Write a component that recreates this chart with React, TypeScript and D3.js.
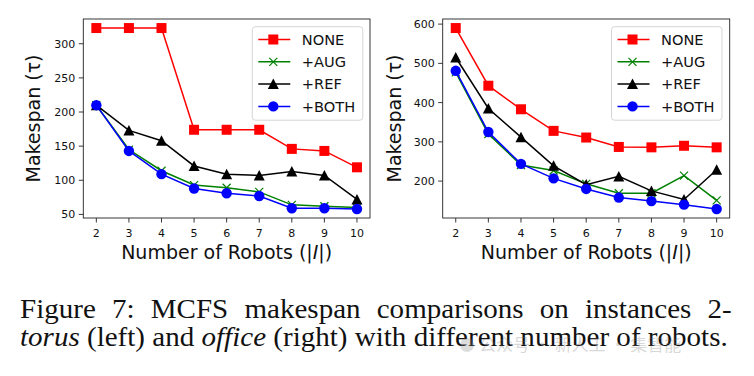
import React, { useLayoutEffect, useRef, useState } from "react";
import * as d3 from "d3";

const robots = [2, 3, 4, 5, 6, 7, 8, 9, 10];
const torusNone = [323, 323, 323, 174, 174, 174, 146, 143, 119];
const torusAug = [210, 145, 114, 93, 89, 83, 64, 62, 60];
const torusRef = [210, 173, 158, 121, 109, 107, 113, 107, 72];
const torusBoth = [210, 143, 109, 88, 81, 77, 59, 59, 58];
const officeNone = [590, 443, 383, 328, 311, 287, 286, 290, 286];
const officeAug = [477, 320, 241, 227, 193, 169, 169, 214, 151];
const officeRef = [515, 385, 312, 239, 191, 212, 175, 153, 229];
const officeBoth = [481, 325, 244, 207, 180, 158, 149, 140, 129];
const torusTicks = [50, 100, 150, 200, 250, 300];
const officeTicks = [200, 300, 400, 500, 600];
const seriesNames = ["NONE", "+AUG", "+REF", "+BOTH"];
const seriesColors = ["#ff0000", "#008000", "#000000", "#0000ff"];
const seriesMarkers = ["square", "x", "triangle", "circle"];
const xLabel = "Number of Robots (|";
const yLabel = "Makespan (τ)";
const captionLine1 = ["Figure", "7:", "MCFS", "makespan", "comparisons", "on", "instances", "2-"];
const watermark = "公众号 · 新人工 · 集智能";

const FONT = "'DejaVu Sans', sans-serif";

function Marker({ type, x, y, color }: { type: string; x: number; y: number; color: string }) {
  if (type === "square") return <rect x={x - 5} y={y - 5} width={10} height={10} fill={color} />;
  if (type === "circle") return <circle cx={x} cy={y} r={5.2} fill={color} />;
  if (type === "triangle")
    return <path d={`M${x},${y - 5.5}L${x + 5.5},${y + 5}L${x - 5.5},${y + 5}Z`} fill={color} />;
  return (
    <path
      d={`M${x - 4},${y - 4}L${x + 4},${y + 4}M${x - 4},${y + 4}L${x + 4},${y - 4}`}
      stroke={color}
      strokeWidth={1.2}
      fill="none"
    />
  );
}

function Panel({
  x0, x1, y0, y1, series, yTicks, yLabelX, legendX,
}: {
  x0: number; x1: number; y0: number; y1: number; series: number[][]; yTicks: number[]; yLabelX: number; legendX: number;
}) {
  const all = series.flat();
  const mn = d3.min(all) as number;
  const mx = d3.max(all) as number;
  const pad = (mx - mn) * 0.05;
  const x = d3.scaleLinear().domain([1.6, 10.4]).range([x0, x1]);
  const y = d3.scaleLinear().domain([mn - pad, mx + pad]).range([y1, y0]);
  const line = d3
    .line<number>()
    .x((_, i) => x(robots[i]))
    .y((d) => y(d));
  const cx = (x0 + x1) / 2;
  const cy = (y0 + y1) / 2;
  return (
    <g>
      {series.map((s, si) => (
        <g key={si}>
          <path d={line(s) || ""} fill="none" stroke={seriesColors[si]} strokeWidth={1.5} />
          {s.map((v, i) => (
            <Marker key={i} type={seriesMarkers[si]} x={x(robots[i])} y={y(v)} color={seriesColors[si]} />
          ))}
        </g>
      ))}
      <rect x={x0} y={y0} width={x1 - x0} height={y1 - y0} fill="none" stroke="#222" strokeWidth={0.9} />
      {robots.map((r) => (
        <g key={r}>
          <line x1={x(r)} x2={x(r)} y1={y1} y2={y1 + 4.5} stroke="#222" strokeWidth={0.9} />
          <text x={x(r)} y={y1 + 18.5} textAnchor="middle" fontSize={11} fontFamily={FONT} fill="#111">
            {r}
          </text>
        </g>
      ))}
      {yTicks.map((t) => (
        <g key={t}>
          <line x1={x0 - 4.5} x2={x0} y1={y(t)} y2={y(t)} stroke="#222" strokeWidth={0.9} />
          <text x={x0 - 8} y={y(t) + 4} textAnchor="end" fontSize={11} fontFamily={FONT} fill="#111">
            {t}
          </text>
        </g>
      ))}
      <text x={cx} y={258.5} textAnchor="middle" fontSize={19} fontFamily={FONT} fill="#111">
        {xLabel}
        <tspan fontStyle="italic">I</tspan>
        {"|)"}
      </text>
      <text
        transform={`translate(${yLabelX},${cy}) rotate(-90)`}
        textAnchor="middle"
        fontSize={19}
        fontFamily={FONT}
        fill="#111"
      >
        {yLabel}
      </text>
      <g>
        <rect x={legendX} y={26.7} width={110.5} height={93.5} rx={3} fill="#fff" fillOpacity={0.85} stroke="#d0d0d0" strokeWidth={0.9} />
        {seriesNames.map((n, i) => {
          const ly = 39.5 + i * 22.3;
          return (
            <g key={n}>
              <line x1={legendX + 6} x2={legendX + 38} y1={ly} y2={ly} stroke={seriesColors[i]} strokeWidth={1.5} />
              <Marker type={seriesMarkers[i]} x={legendX + 21} y={ly} color={seriesColors[i]} />
              <text x={legendX + 49.5} y={ly + 5.3} fontSize={14.6} fontFamily={FONT} fill="#111">
                {n}
              </text>
            </g>
          );
        })}
      </g>
    </g>
  );
}

export default function App() {
  const l1 = useRef<SVGTextElement>(null);
  const l2 = useRef<SVGTextElement>(null);
  const [fit, setFit] = useState({ sx: 1, ws: 0, ready: false });
  useLayoutEffect(() => {
    if (fit.ready || !l1.current || !l2.current) return;
    const w2 = l2.current.getComputedTextLength();
    const w1 = l1.current.getComputedTextLength();
    const sx = 708 / w2;
    const ws = (712 / sx - w1) / (captionLine1.length - 1);
    setFit({ sx, ws, ready: true });
  }, [fit.ready]);
  const capFont = "'Liberation Serif', 'Times New Roman', serif";
  return (
    <svg
      width={754}
      height={376}
      style={{ position: "absolute", left: 0, top: 0, background: "#fff" }}
    >
      <rect width={754} height={376} fill="#fff" />
      <Panel
        x0={83.3}
        x1={370}
        y0={19}
        y1={218}
        series={[torusNone, torusAug, torusRef, torusBoth]}
        yTicks={torusTicks}
        yLabelX={40}
        legendX={252.3}
      />
      <Panel
        x0={442.7}
        x1={729.7}
        y0={19}
        y1={218}
        series={[officeNone, officeAug, officeRef, officeBoth]}
        yTicks={officeTicks}
        yLabelX={401}
        legendX={611.5}
      />
      <g transform={`translate(20,0) scale(${fit.sx},1)`} fontFamily={capFont} fontSize={26.5} fill="#111">
        <text ref={l1} x={0} y={318} style={{ wordSpacing: `${fit.ws}px` }}>
          {captionLine1.join(" ")}
        </text>
        <text ref={l2} x={0} y={346.5}>
          <tspan fontStyle="italic">torus</tspan>
          {" (left) and "}
          <tspan fontStyle="italic">office</tspan>
          {" (right) with different number of robots."}
        </text>
      </g>
      <g opacity={0.28}>
        <circle cx={467} cy={345} r={7} fill="#888" />
        <text x={479} y={351} fontSize={17} fontFamily="'Noto Sans CJK SC', sans-serif" fill="#777">
          {watermark}
        </text>
      </g>
    </svg>
  );
}
